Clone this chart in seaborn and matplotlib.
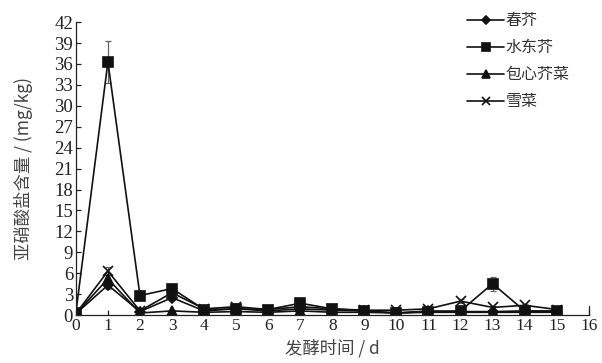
import numpy as np
import pandas as pd
import matplotlib
matplotlib.use("Agg")
import matplotlib.pyplot as plt
import seaborn as sns

days = list(range(16))
series_names = ["春芥", "水东芥", "包心芥菜", "雪菜"]
chunjie = [0.2, 4.3, 0.5, 2.5, 0.6, 0.9, 0.6, 0.9, 0.7, 0.6, 0.3, 0.6, 0.5, 0.5, 0.6, 0.5]
shuidongjie = [0.3, 36.3, 2.8, 3.8, 0.8, 0.9, 0.8, 1.7, 0.9, 0.6, 0.3, 0.5, 0.6, 4.5, 0.6, 0.6]
baoxin = [0.2, 5.2, 0.3, 0.6, 0.4, 0.5, 0.4, 0.6, 0.4, 0.4, 0.3, 0.4, 0.4, 0.4, 0.4, 0.4]
xuecai = [0.2, 6.3, 0.6, 3.2, 0.9, 1.2, 0.8, 1.2, 0.9, 0.7, 0.7, 0.9, 2.0, 1.1, 1.4, 0.8]
err_chunjie = [0.1, 0.6, 0.2, 0.4, 0.2, 0.2, 0.2, 0.2, 0.2, 0.2, 0.1, 0.2, 0.2, 0.2, 0.2, 0.2]
err_shuidong = [0.1, 3.0, 0.3, 0.5, 0.2, 0.2, 0.2, 0.3, 0.2, 0.2, 0.1, 0.2, 0.2, 1.0, 0.2, 0.2]
err_baoxin = [0.1, 0.6, 0.1, 0.2, 0.1, 0.1, 0.1, 0.1, 0.1, 0.1, 0.1, 0.1, 0.1, 0.1, 0.1, 0.1]
err_xuecai = [0.1, 0.6, 0.2, 0.4, 0.2, 0.2, 0.2, 0.2, 0.2, 0.2, 0.2, 0.2, 0.3, 0.2, 0.2, 0.2]
yticks = list(range(0, 43, 3))
xticks = list(range(0, 17))

values = [chunjie, shuidongjie, baoxin, xuecai]
errs = [err_chunjie, err_shuidong, err_baoxin, err_xuecai]
markers = {"春芥": "D", "水东芥": "s", "包心芥菜": "^", "雪菜": "x"}
msizes = {"春芥": 5.5, "水东芥": 6.5, "包心芥菜": 6.5, "雪菜": 6.5}

df = pd.DataFrame({
    "day": days * 4,
    "val": sum(values, []),
    "series": sum([[n] * len(days) for n in series_names], []),
})

sns.set_style("ticks")
plt.rcParams['font.family'] = ['Liberation Serif', 'Noto Sans CJK SC']

fig = plt.figure(figsize=(6.02, 3.63), dpi=100)
ax = fig.add_axes([0.126, 0.132, 0.852, 0.807])

for name, v, e in zip(series_names, values, errs):
    sub = df[df.series == name]
    ax.errorbar(days, v, yerr=e, fmt="none", ecolor="#666666", elinewidth=0.9, capsize=2.5, capthick=0.9, zorder=1)
    sns.lineplot(data=sub, x="day", y="val", ax=ax, color="#111111", linewidth=1.2,
                 marker=markers[name], markersize=msizes[name], markeredgewidth=1.2,
                 markeredgecolor="#111111", markerfacecolor="#111111", label=name, zorder=2)

ax.set_xlim(0, 16)
ax.set_ylim(0, 42)
ax.set_xticks(xticks)
ax.set_yticks(yticks)
ax.tick_params(direction="in", length=3.5, width=0.9, colors="#222222", pad=2)
ax.tick_params(axis="y", labelsize=13.5)
ax.tick_params(axis="x", labelsize=12.5)
ax.set_xlabel("发酵时间 / d", fontsize=12.5, color="#444444", labelpad=4,
              family=['Noto Sans CJK SC', 'Liberation Serif'])
ax.set_ylabel("亚硝酸盐含量 / (mg/kg)", fontsize=12.5, color="#444444", labelpad=15,
              family=['Noto Sans CJK SC', 'Liberation Serif'])
sns.despine(ax=ax)
for s in ["left", "bottom"]:
    ax.spines[s].set_linewidth(0.9)
    ax.spines[s].set_color("#222222")
ax.axvline(16, ymin=0, ymax=0.03, color="#222222", linewidth=0.9, clip_on=False)

leg = ax.legend(loc="upper right", bbox_to_anchor=(0.975, 1.055), frameon=False,
                prop={"family": ['Noto Sans CJK SC'], "size": 11.5},
                handlelength=2.3, handletextpad=0.1, labelspacing=0.62, borderaxespad=0,
                markerscale=0.8)
for t in leg.get_texts():
    t.set_color("#333333")

fig.savefig("out.png", dpi=100)
